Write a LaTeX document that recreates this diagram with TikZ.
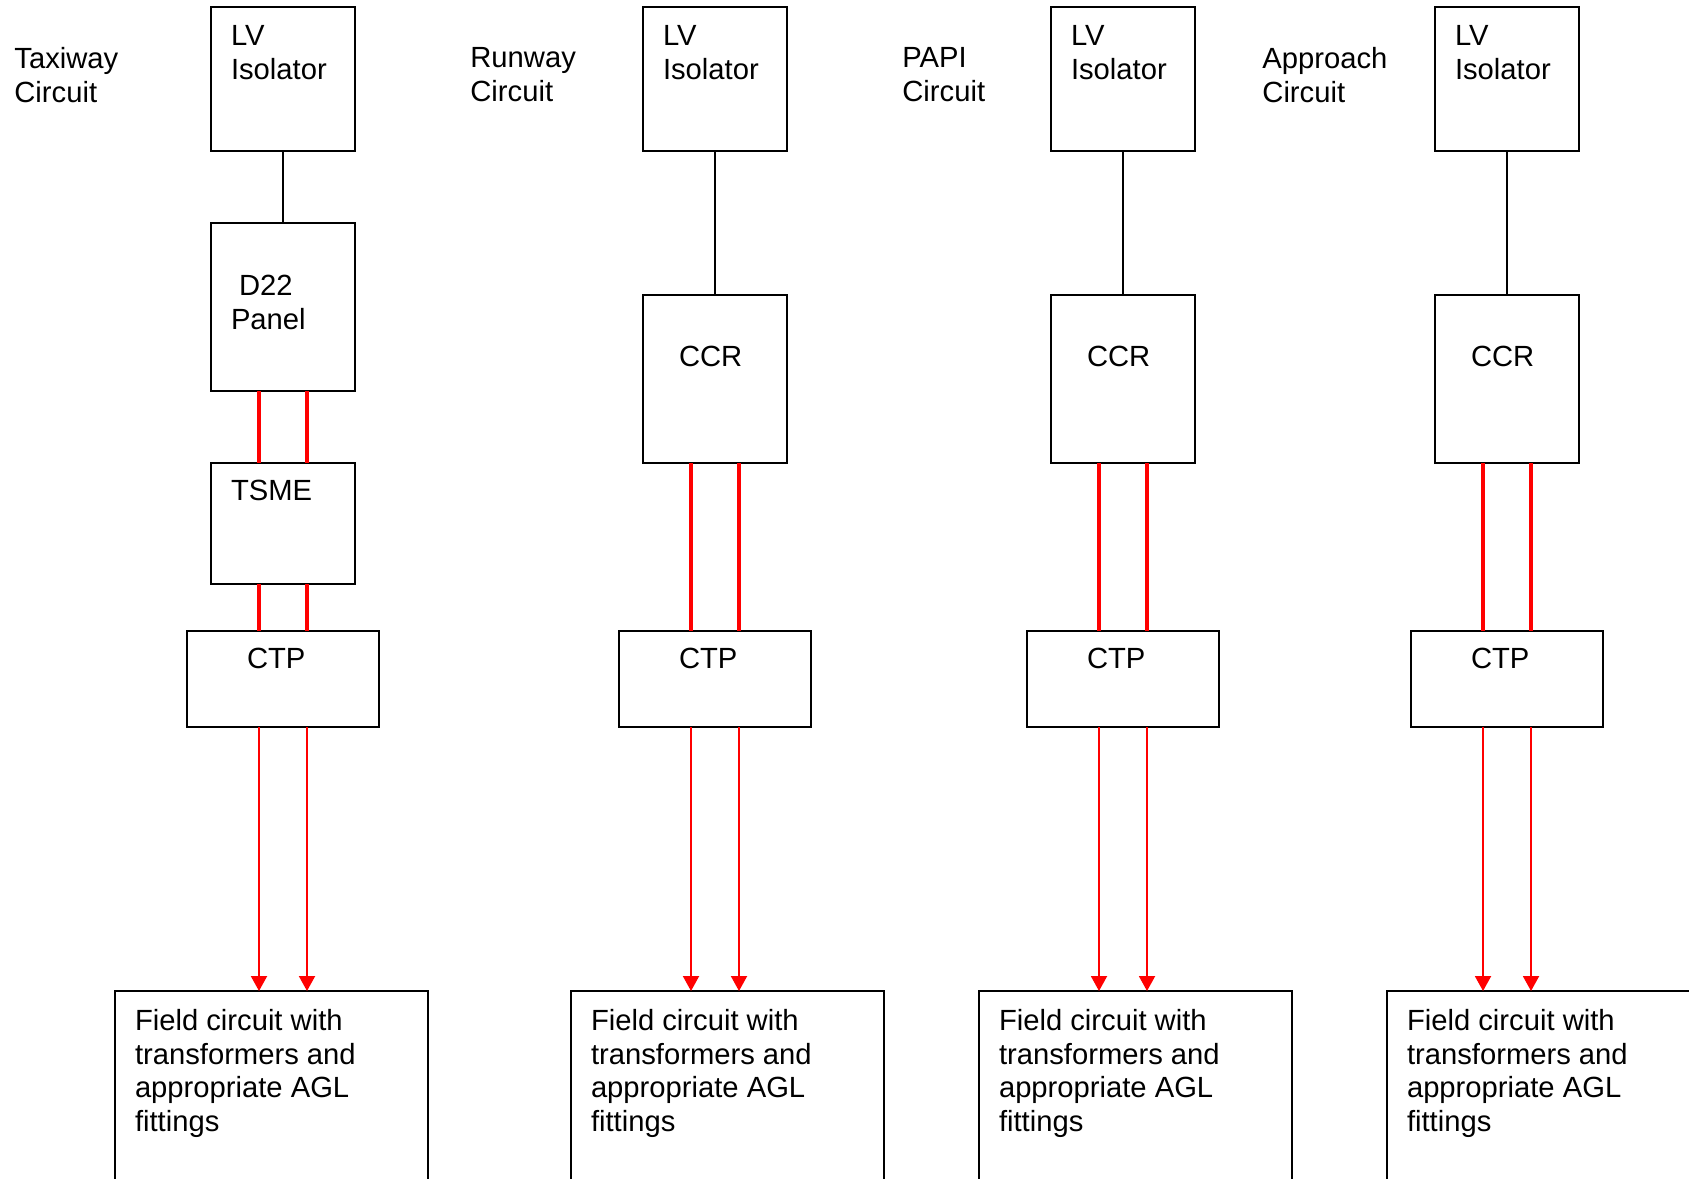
\documentclass[tikz,border=0pt]{standalone}
\usepackage{fontspec}
\setmainfont{Liberation Sans}
\usetikzlibrary{arrows.meta}
\tikzstyle{unit}=[draw, line width=1pt, inner sep=0pt, outer sep=0pt, minimum width=72pt, minimum height=72pt]
\tikzstyle{field}=[unit, anchor=north west, minimum width=156.5pt, minimum height=130pt]
\tikzstyle{txt}=[anchor=north west, inner sep=0pt, align=left, font=\fontsize{14.6pt}{16.8pt}\selectfont]
\tikzstyle{toplab}=[txt, xshift=9.8pt, yshift=-9pt]
\tikzstyle{midlab}=[txt, xshift=17.8pt, yshift=-25.6pt]
\tikzstyle{ctplab}=[txt, xshift=29.8pt, yshift=-8.5pt]
\tikzstyle{wire}=[line width=1pt]
\tikzstyle{feed}=[red, line width=2pt]
\tikzstyle{lead}=[red, line width=1pt, -{Triangle[width=8pt,length=7.5pt]}]

\begin{document}
\begin{tikzpicture}[x=0.5pt,y=-0.5pt]
  \useasboundingbox (0,0) rectangle (1689,1178);
  % circuit names
  \node [txt] (taxi) at (14,47) {Taxiway\\Circuit};
  \node [txt] (rwy) at (470,47) {Runway\\Circuit};
  \node [txt] (papi) at (902,47) {PAPI\\Circuit};
  \node [txt] (appr) at (1262,47) {Approach\\Circuit};

  % taxiway
  \node [unit, label={[toplab]north west:LV\\Isolator}] (lv1) at (283,79) {};
  \node [unit, minimum height=84pt, label={[txt, xshift=9.8pt, yshift=-26pt]north west:\ D22\\Panel}] (d22) at (283,307) {};
  \node [unit, minimum height=60.5pt, label={[toplab, yshift=0.5pt]north west:TSME}] (tsme) at (283,523.5) {};
  \node [unit, minimum width=96pt, minimum height=48pt, label={[ctplab]north west:CTP}] (ctp1) at (283,679) {};
  \node [field, label={[toplab]north west:Field circuit with\\transformers and\\appropriate AGL\\fittings}] (fld1) at (115,991) {};
  \draw [wire] (lv1) -- (d22);
  \draw [feed] ([xshift=-12pt]d22.south) -- ([xshift=-12pt]tsme.north);
  \draw [feed] ([xshift=12pt]d22.south) -- ([xshift=12pt]tsme.north);
  \draw [feed] ([xshift=-12pt]tsme.south) -- ([xshift=-12pt]ctp1.north);
  \draw [feed] ([xshift=12pt]tsme.south) -- ([xshift=12pt]ctp1.north);
  \draw [lead] ([xshift=-12pt]ctp1.south) -- ([xshift=-12pt]ctp1.south |- fld1.north);
  \draw [lead] ([xshift=12pt]ctp1.south) -- ([xshift=12pt]ctp1.south |- fld1.north);

  % runway
  \node [unit, label={[toplab]north west:LV\\Isolator}] (lv2) at (715,79) {};
  \node [unit, minimum height=84pt, label={[midlab]north west:CCR}] (ccr2) at (715,379) {};
  \node [unit, minimum width=96pt, minimum height=48pt, label={[ctplab]north west:CTP}] (ctp2) at (715,679) {};
  \node [field, label={[toplab]north west:Field circuit with\\transformers and\\appropriate AGL\\fittings}] (fld2) at (571,991) {};
  \draw [wire] (lv2) -- (ccr2);
  \draw [feed] ([xshift=-12pt]ccr2.south) -- ([xshift=-12pt]ctp2.north);
  \draw [feed] ([xshift=12pt]ccr2.south) -- ([xshift=12pt]ctp2.north);
  \draw [lead] ([xshift=-12pt]ctp2.south) -- ([xshift=-12pt]ctp2.south |- fld2.north);
  \draw [lead] ([xshift=12pt]ctp2.south) -- ([xshift=12pt]ctp2.south |- fld2.north);

  % papi
  \node [unit, label={[toplab]north west:LV\\Isolator}] (lv3) at (1123,79) {};
  \node [unit, minimum height=84pt, label={[midlab]north west:CCR}] (ccr3) at (1123,379) {};
  \node [unit, minimum width=96pt, minimum height=48pt, label={[ctplab]north west:CTP}] (ctp3) at (1123,679) {};
  \node [field, label={[toplab]north west:Field circuit with\\transformers and\\appropriate AGL\\fittings}] (fld3) at (979,991) {};
  \draw [wire] (lv3) -- (ccr3);
  \draw [feed] ([xshift=-12pt]ccr3.south) -- ([xshift=-12pt]ctp3.north);
  \draw [feed] ([xshift=12pt]ccr3.south) -- ([xshift=12pt]ctp3.north);
  \draw [lead] ([xshift=-12pt]ctp3.south) -- ([xshift=-12pt]ctp3.south |- fld3.north);
  \draw [lead] ([xshift=12pt]ctp3.south) -- ([xshift=12pt]ctp3.south |- fld3.north);

  % approach
  \node [unit, label={[toplab]north west:LV\\Isolator}] (lv4) at (1507,79) {};
  \node [unit, minimum height=84pt, label={[midlab]north west:CCR}] (ccr4) at (1507,379) {};
  \node [unit, minimum width=96pt, minimum height=48pt, label={[ctplab]north west:CTP}] (ctp4) at (1507,679) {};
  \node [field, label={[toplab]north west:Field circuit with\\transformers and\\appropriate AGL\\fittings}] (fld4) at (1387,991) {};
  \draw [wire] (lv4) -- (ccr4);
  \draw [feed] ([xshift=-12pt]ccr4.south) -- ([xshift=-12pt]ctp4.north);
  \draw [feed] ([xshift=12pt]ccr4.south) -- ([xshift=12pt]ctp4.north);
  \draw [lead] ([xshift=-12pt]ctp4.south) -- ([xshift=-12pt]ctp4.south |- fld4.north);
  \draw [lead] ([xshift=12pt]ctp4.south) -- ([xshift=12pt]ctp4.south |- fld4.north);
\end{tikzpicture}
\end{document}
